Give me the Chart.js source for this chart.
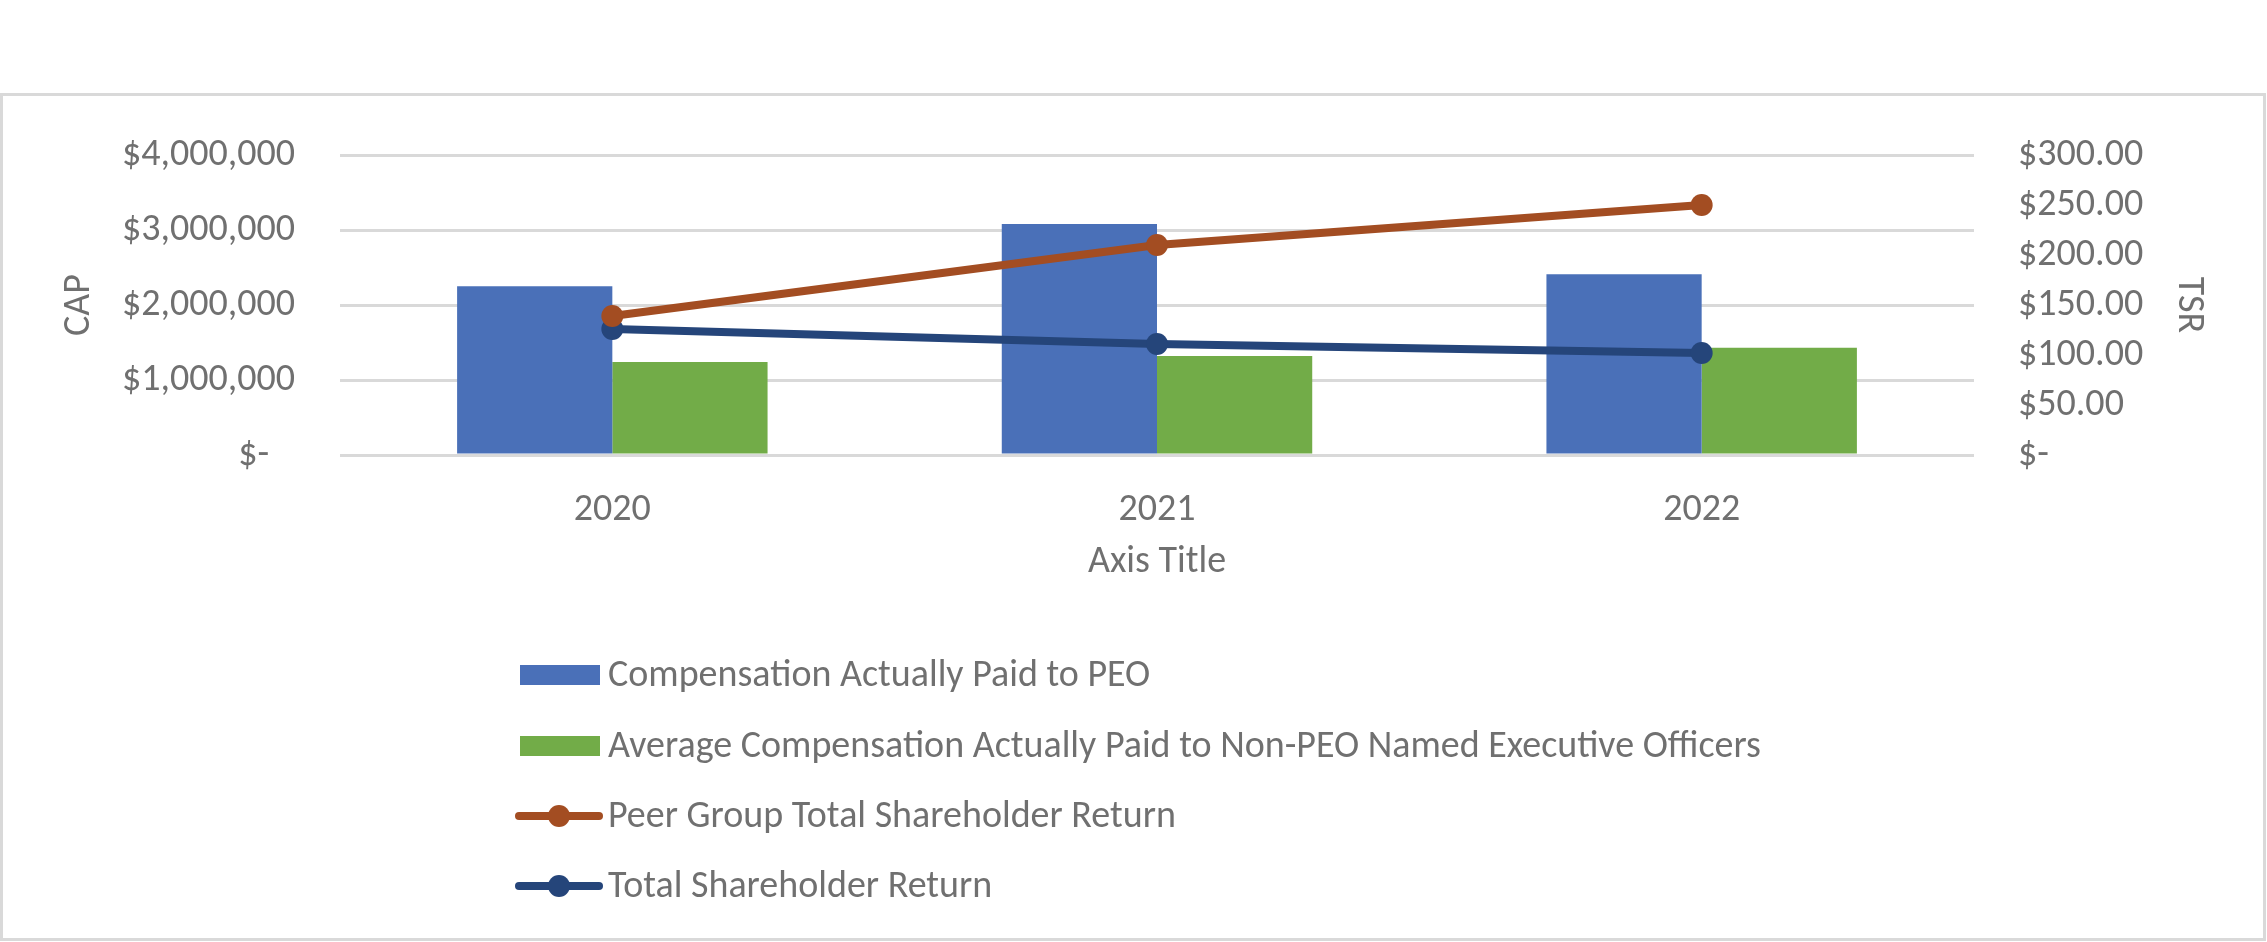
<!DOCTYPE html>
<html>
<head>
<meta charset="utf-8">
<script src="https://cdn.jsdelivr.net/npm/chart.js@4"></script>
<style>
  html, body { margin: 0; padding: 0; background: #ffffff; }
  #wrap { position: relative; width: 2267px; height: 942px; }
</style>
</head>
<body>
<div id="wrap"><canvas id="capChart" width="2267" height="942"></canvas></div>
<script>
// Dados do gráfico
const years = ['2020', '2021', '2022'];
const capPeo = [2250000, 3080000, 2410000];
const capNonPeo = [1240000, 1320000, 1430000];
const peerTsr = [139, 210, 250];
const companyTsr = [126, 111, 102];

const seriesNames = [
  'Compensation Actually Paid to PEO',
  'Average Compensation Actually Paid to Non-PEO Named Executive Officers',
  'Peer Group Total Shareholder Return',
  'Total Shareholder Return'
];

const FONT = 'Carlito, Lato, sans-serif';
const FSIZE = 38;
const TEXT = '#707070';
const GRID = '#d9d9d9';

// Formata valores no estilo "contábil" do Excel
function fmtCap(v) {
  if (v === 0) return '$-   ';
  return '$' + v.toLocaleString('en-US');
}
function fmtTsr(v) {
  if (v === 0) return '$-';
  return '$' + v.toFixed(2);
}

// Moldura e fundo
const framePlugin = {
  id: 'frame',
  beforeDraw(chart) {
    const ctx = chart.ctx;
    ctx.save();
    ctx.fillStyle = '#ffffff';
    ctx.fillRect(0, 0, chart.width, chart.height);
    ctx.strokeStyle = GRID;
    ctx.lineWidth = 3;
    ctx.strokeRect(1.5, 94.5, 2263, 845);
    ctx.restore();
  }
};

// Legenda em coluna única, desenhada abaixo do eixo
const legendPlugin = {
  id: 'columnLegend',
  afterDraw(chart) {
    const ctx = chart.ctx;
    const rows = [675, 746, 816, 886];
    ctx.save();
    ctx.font = FSIZE + 'px ' + FONT;
    ctx.textBaseline = 'middle';
    ctx.textAlign = 'left';
    chart.data.datasets.forEach((ds, i) => {
      const y = rows[i];
      if (ds.type === 'bar') {
        ctx.fillStyle = ds.backgroundColor;
        ctx.fillRect(520, y - 10, 80, 20);
      } else {
        ctx.strokeStyle = ds.borderColor;
        ctx.lineWidth = 8;
        ctx.lineCap = 'round';
        ctx.beginPath();
        ctx.moveTo(519, y);
        ctx.lineTo(599, y);
        ctx.stroke();
        ctx.fillStyle = ds.borderColor;
        ctx.beginPath();
        ctx.arc(559, y, 11, 0, Math.PI * 2);
        ctx.fill();
      }
      ctx.fillStyle = TEXT;
      ctx.fillText(ds.label, 608, y + 1);
    });
    ctx.restore();
  }
};

const ctx = document.getElementById('capChart').getContext('2d');
new Chart(ctx, {
  data: {
    labels: years,
    datasets: [
      {
        type: 'bar',
        label: seriesNames[0],
        data: capPeo,
        backgroundColor: '#4a70b8',
        yAxisID: 'y',
        order: 2,
        categoryPercentage: 0.57,
        barPercentage: 1.0
      },
      {
        type: 'bar',
        label: seriesNames[1],
        data: capNonPeo,
        backgroundColor: '#72ac48',
        yAxisID: 'y',
        order: 2,
        categoryPercentage: 0.57,
        barPercentage: 1.0
      },
      {
        type: 'line',
        label: seriesNames[2],
        data: peerTsr,
        borderColor: '#a34d22',
        backgroundColor: '#a34d22',
        borderWidth: 8,
        pointRadius: 11,
        pointHoverRadius: 11,
        pointBorderWidth: 0,
        fill: false,
        tension: 0,
        yAxisID: 'y1',
        order: 1
      },
      {
        type: 'line',
        label: seriesNames[3],
        data: companyTsr,
        borderColor: '#25457a',
        backgroundColor: '#25457a',
        borderWidth: 8,
        pointRadius: 11,
        pointHoverRadius: 11,
        pointBorderWidth: 0,
        fill: false,
        tension: 0,
        yAxisID: 'y1',
        order: 1
      }
    ]
  },
  options: {
    responsive: false,
    animation: false,
    layout: { padding: { left: 0, right: 0, top: 155, bottom: 357 } },
    plugins: {
      legend: { display: false },
      tooltip: { enabled: false }
    },
    scales: {
      x: {
        offset: true,
        grid: { display: false },
        border: { display: false },
        ticks: { color: TEXT, font: { family: FONT, size: FSIZE }, padding: 25 },
        title: {
          display: true,
          text: 'Axis Title',
          color: TEXT,
          font: { family: FONT, size: FSIZE },
          padding: { top: 0, bottom: 0 }
        },
        afterFit(scale) { scale.height = 130; }
      },
      y: {
        position: 'left',
        min: 0,
        max: 4000000,
        grid: { color: GRID, lineWidth: 3, drawTicks: false },
        border: { display: false },
        ticks: {
          stepSize: 1000000,
          color: TEXT,
          font: { family: FONT, size: FSIZE },
          padding: 45,
          callback: v => fmtCap(v)
        },
        title: {
          display: true,
          text: 'CAP',
          color: TEXT,
          font: { family: FONT, size: FSIZE },
          padding: { top: 57, bottom: 0 }
        },
        afterFit(scale) { scale.width = 340; }
      },
      y1: {
        position: 'right',
        min: 0,
        max: 300,
        grid: { display: false, drawTicks: false },
        border: { display: false },
        ticks: {
          stepSize: 50,
          color: TEXT,
          font: { family: FONT, size: FSIZE },
          padding: 44,
          callback: v => fmtTsr(v)
        },
        title: {
          display: true,
          text: 'TSR',
          color: TEXT,
          font: { family: FONT, size: FSIZE },
          padding: { top: 56, bottom: 0 }
        },
        afterFit(scale) { scale.width = 293; }
      }
    }
  },
  plugins: [framePlugin, legendPlugin]
});
</script>
</body>
</html>
